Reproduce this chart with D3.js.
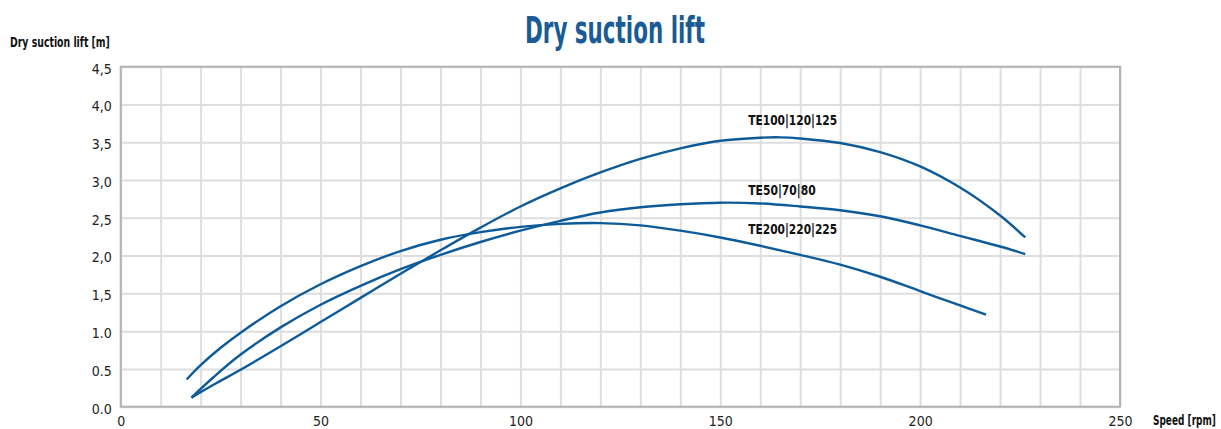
<!DOCTYPE html>
<html>
<head>
<meta charset="utf-8">
<script src="https://cdn.jsdelivr.net/npm/d3@7"></script>
<style>
  html, body { margin: 0; padding: 0; background: #fff; }
  svg { display: block; }
  text { font-family: "Liberation Sans Narrow", "DejaVu Sans Condensed", "Roboto", sans-serif; }
</style>
</head>
<body>
<svg id="chart" width="1221" height="429"></svg>
<script>
// ---- data ----
const chartTitle = "Dry suction lift";
const yAxisTitle = "Dry suction lift [m]";
const xAxisTitle = "Speed [rpm]";

const xTickValues = [0, 50, 100, 150, 200, 250];
const xTickLabels = ["0", "50", "100", "150", "200", "250"];
const yTickValues = [0, 0.5, 1.0, 1.5, 2.0, 2.5, 3.0, 3.5, 4.0, 4.5];
const yTickLabels = ["0.0", "0.5", "1.0", "1,5", "2,0", "2,5", "3,0", "3,5", "4,0", "4,5"];

const seriesNames = ["TE100|120|125", "TE50|70|80", "TE200|220|225"];

const speedTE100 = [17.7, 23.2, 30, 40, 50, 60, 70, 80, 90, 100, 110, 120, 130, 140, 150, 160, 165, 170, 180, 190, 200, 210, 220, 226.3];
const liftTE100  = [0.12, 0.29, 0.49, 0.80, 1.12, 1.44, 1.76, 2.07, 2.37, 2.65, 2.89, 3.10, 3.28, 3.42, 3.52, 3.56, 3.565, 3.55, 3.49, 3.37, 3.18, 2.90, 2.53, 2.24];

const speedTE50 = [17.7, 23.2, 30, 40, 50, 60, 70, 80, 90, 100, 110, 120, 130, 140, 150, 160, 170, 180, 190, 200, 210, 220, 226.3];
const liftTE50  = [0.12, 0.39, 0.69, 1.05, 1.35, 1.60, 1.82, 2.01, 2.18, 2.33, 2.46, 2.57, 2.64, 2.68, 2.70, 2.69, 2.65, 2.60, 2.52, 2.40, 2.26, 2.12, 2.02];

const speedTE200 = [16.5, 20, 25, 30, 40, 50, 60, 70, 80, 90, 100, 110, 120, 130, 140, 150, 160, 170, 180, 190, 200, 210, 216.5];
const liftTE200  = [0.36, 0.55, 0.78, 0.98, 1.33, 1.62, 1.86, 2.06, 2.21, 2.31, 2.38, 2.42, 2.43, 2.40, 2.33, 2.24, 2.13, 2.01, 1.88, 1.72, 1.53, 1.34, 1.22];

// ---- layout ----
const margin = { left: 120.7, top: 66.7 };
const W = 999.3, H = 340;
const lineColor = "#0d5b98";
const titleColor = "#1a5b96";

const svg = d3.select("#chart");
const x = d3.scaleLinear().domain([0, 250]).range([0, W]);
const y = d3.scaleLinear().domain([0, 4.5]).range([H, 0]);

const g = svg.append("g").attr("transform", `translate(${margin.left},${margin.top})`);

// grid
const gridX = d3.range(0, 251, 10);
g.append("g").attr("class", "gridx")
  .attr("transform", `translate(0,${H})`)
  .call(d3.axisBottom(x).tickValues(gridX).tickSize(-H).tickFormat(""))
  .call(s => s.select(".domain").remove())
  .call(s => s.selectAll("line").attr("stroke", "#dedede").attr("stroke-width", 2));
g.append("g").attr("class", "gridy")
  .call(d3.axisLeft(y).tickValues(yTickValues).tickSize(-W).tickFormat(""))
  .call(s => s.select(".domain").remove())
  .call(s => s.selectAll("line").attr("stroke", "#dedede").attr("stroke-width", 2));

// frame
g.append("rect").attr("x", 0).attr("y", 0).attr("width", W).attr("height", H)
  .attr("fill", "none").attr("stroke", "#b3b3b3").attr("stroke-width", 2);

// y tick labels
g.append("g")
  .call(d3.axisLeft(y).tickValues(yTickValues).tickSize(0).tickPadding(9)
    .tickFormat((d, i) => yTickLabels[i]))
  .call(s => s.select(".domain").remove())
  .call(s => s.selectAll("text").attr("font-size", 14).attr("fill", "#222")
    .attr("font-family", '"Liberation Sans Narrow", "DejaVu Sans Condensed", sans-serif')
    .attr("dy", "0.45em"));

// x tick labels
g.append("g").attr("transform", `translate(0,${H})`)
  .call(d3.axisBottom(x).tickValues(xTickValues).tickSize(0).tickPadding(9)
    .tickFormat((d, i) => xTickLabels[i]))
  .call(s => s.select(".domain").remove())
  .call(s => s.selectAll("text").attr("font-size", 14).attr("fill", "#222")
    .attr("font-family", '"Liberation Sans Narrow", "DejaVu Sans Condensed", sans-serif'));

// curves
const series = [
  { name: seriesNames[0], sx: speedTE100, sy: liftTE100 },
  { name: seriesNames[1], sx: speedTE50, sy: liftTE50 },
  { name: seriesNames[2], sx: speedTE200, sy: liftTE200 }
];
const line = d3.line().x(d => x(d[0])).y(d => y(d[1])).curve(d3.curveCatmullRom.alpha(0.5));
g.selectAll("path.curve").data(series).join("path")
  .attr("class", "curve")
  .attr("d", s => line(s.sx.map((v, i) => [v, s.sy[i]])))
  .attr("fill", "none").attr("stroke", lineColor).attr("stroke-width", 2.4)
  .attr("stroke-linejoin", "round");

// helper: place text at (px,py) and squeeze horizontally to a target width
function fitText(parent, str, px, py, size, width, color) {
  const grp = parent.append("g");
  const t = grp.append("text").attr("x", 0).attr("y", 0)
    .attr("font-size", size).attr("font-weight", "bold").attr("fill", color)
    .text(str);
  const natural = t.node().getComputedTextLength();
  const sx = natural > 0 ? width / natural : 1;
  grp.attr("transform", `translate(${px},${py}) scale(${sx},1)`);
  return grp;
}

// curve labels (anchored at 157 rpm)
const labelSpeed = 157;
const labelLift = [3.73, 2.80, 2.29];
series.forEach((s, i) => {
  fitText(g, s.name, x(labelSpeed), y(labelLift[i]), 14.5, i === 1 ? 67.5 : 89, "#111");
});

// titles
fitText(svg, chartTitle, 525, 42.5, 37, 180, titleColor);
fitText(svg, yAxisTitle, 10, 46.5, 14, 100, "#111");
fitText(svg, xAxisTitle, 1153, 425, 13.5, 63, "#111");
</script>
</body>
</html>
